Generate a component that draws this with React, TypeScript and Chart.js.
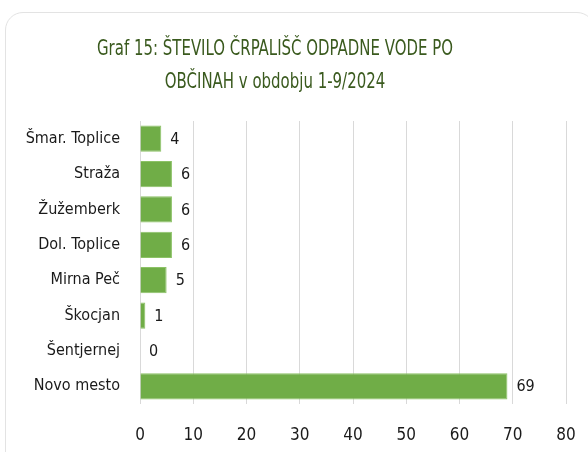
import React, { useEffect, useRef } from "react";
import { Chart, registerables } from "chart.js";

Chart.register(...registerables);

const categories = [
  "Šmar. Toplice",
  "Straža",
  "Žužemberk",
  "Dol. Toplice",
  "Mirna Peč",
  "Škocjan",
  "Šentjernej",
  "Novo mesto",
];
const values = [4, 6, 6, 6, 5, 1, 0, 69];
const titleLines = [
  "Graf 15: ŠTEVILO ČRPALIŠČ ODPADNE VODE PO",
  "OBČINAH v obdobju 1-9/2024",
];
const xMin = 0;
const xMax = 80;
const xStep = 10;

const FONT = "'DejaVu Sans Condensed', 'DejaVu Sans', sans-serif";

const valueLabels = {
  id: "valueLabels",
  afterDatasetsDraw(chart: any) {
    const ctx = chart.ctx;
    const meta = chart.getDatasetMeta(0);
    ctx.save();
    ctx.font = `16px ${FONT}`;
    ctx.fillStyle = "#1a1a1a";
    ctx.textAlign = "left";
    ctx.textBaseline = "middle";
    meta.data.forEach((bar: any, i: number) => {
      ctx.fillText(String(values[i]), bar.x + 9, bar.y + 1);
    });
    ctx.restore();
  },
};

const titlePlugin = {
  id: "condensedTitle",
  afterDraw(chart: any) {
    const ctx = chart.ctx;
    ctx.save();
    ctx.font = `21px ${FONT}`;
    ctx.fillStyle = "#3a5a1e";
    ctx.textAlign = "center";
    ctx.textBaseline = "alphabetic";
    const cx = 275;
    const baselines = [55, 88];
    const w0 = ctx.measureText(titleLines[0]).width;
    const sx = 356 / w0;
    titleLines.forEach((line, i) => {
      ctx.save();
      ctx.translate(cx, baselines[i]);
      ctx.scale(sx, 1);
      ctx.fillText(line, 0, 0);
      ctx.restore();
    });
    ctx.restore();
  },
};

export default function App() {
  const ref = useRef<HTMLCanvasElement | null>(null);
  useEffect(() => {
    if (!ref.current) return;
    const chart = new Chart(ref.current, {
      type: "bar",
      data: {
        labels: categories,
        datasets: [
          {
            data: values,
            backgroundColor: "#70ad47",
            borderColor: "#8cc266",
            borderWidth: 1,
            barPercentage: 0.74,
            categoryPercentage: 1,
          },
        ],
      },
      options: {
        indexAxis: "y",
        animation: false,
        responsive: false,
        layout: { padding: { top: 121, right: 22, bottom: 0, left: 4 } },
        plugins: {
          legend: { display: false },
          tooltip: { enabled: false },
          title: { display: false },
        },
        scales: {
          x: {
            min: xMin,
            max: xMax,
            ticks: {
              stepSize: xStep,
              color: "#1a1a1a",
              font: { family: FONT, size: 17 },
              padding: 21,
            },
            grid: { color: "#d9d9d9", drawTicks: false },
            border: { display: false },
            afterFit(scale: any) {
              scale.height = 48;
              scale.paddingLeft = 0;
              scale.paddingRight = 0;
            },
          },
          y: {
            ticks: {
              color: "#1a1a1a",
              font: { family: FONT, size: 16 },
              padding: 20,
            },
            grid: { display: false, drawTicks: false },
            border: { display: false },
            afterFit(scale: any) {
              scale.width = 136;
            },
          },
        },
      },
      plugins: [valueLabels, titlePlugin],
    });
    return () => chart.destroy();
  }, []);
  return (
    <div
      style={{
        position: "fixed",
        left: 0,
        top: 0,
        width: 588,
        height: 452,
        background: "#ffffff",
        overflow: "hidden",
      }}
    >
      <div
        style={{
          position: "absolute",
          left: 5,
          top: 12,
          width: 590,
          height: 460,
          border: "1.5px solid #e3e3e3",
          borderRadius: 18,
          boxSizing: "border-box",
        }}
      />
      <canvas
        ref={ref}
        width={588}
        height={452}
        style={{ position: "absolute", left: 0, top: 0 }}
      />
    </div>
  );
}
